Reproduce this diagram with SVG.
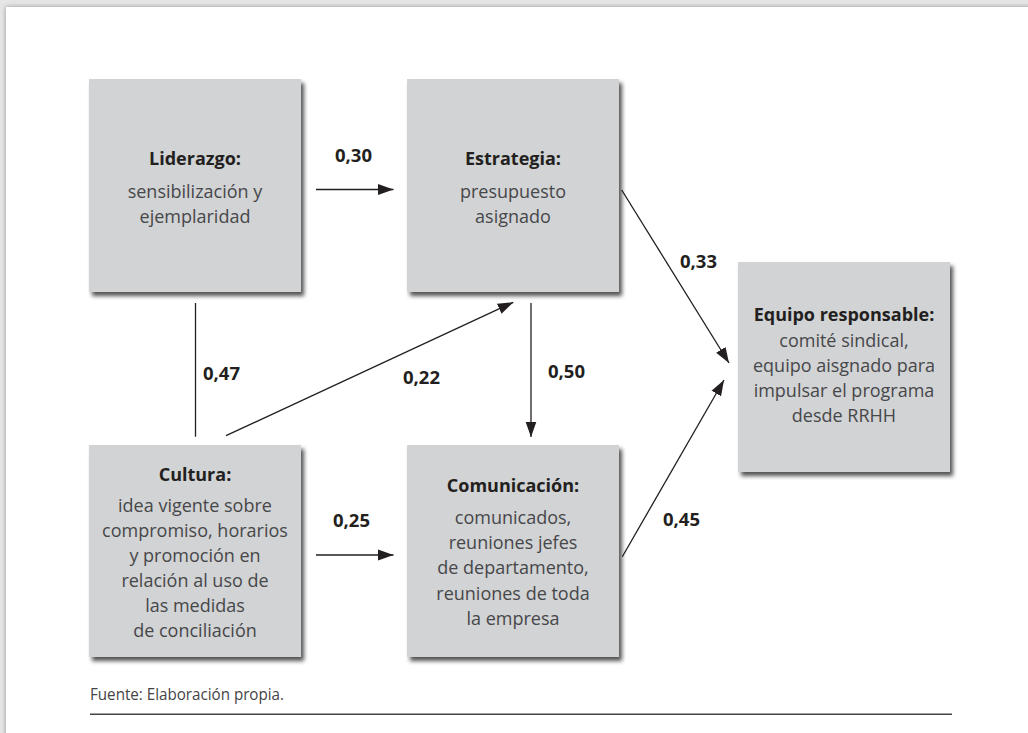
<svg xmlns="http://www.w3.org/2000/svg" width="1028" height="733" viewBox="0 0 1028 733">
  <defs>
    <filter id="pageShadow" x="-5%" y="-5%" width="110%" height="110%">
      <feDropShadow dx="0" dy="0" stdDeviation="2.5" flood-color="#8a8a8a" flood-opacity="0.9"/>
    </filter>
    <filter id="boxShadow" x="-10%" y="-10%" width="125%" height="125%">
      <feDropShadow dx="3" dy="4" stdDeviation="2.2" flood-color="#000" flood-opacity="0.68"/>
    </filter>
    <marker id="arrow" markerUnits="userSpaceOnUse" markerWidth="16" markerHeight="12" viewBox="0 0 16 12" refX="15.5" refY="6" orient="auto">
      <path d="M0,0.5 L15.5,6 L0,11.5 Z" fill="#231f20"/>
    </marker>
  </defs>
  <style>
    .box { fill: #d1d3d4; filter: url(#boxShadow); }
    .title { font-family: "Open Sans", "Noto Sans", sans-serif; font-weight: 700; font-size: 18px; fill: #231f20; text-anchor: middle; }
    .body { font-family: "Open Sans", "Noto Sans", sans-serif; font-weight: 400; font-size: 18px; fill: #47474a; text-anchor: middle; }
    .lbl { font-family: "Open Sans", "Noto Sans", sans-serif; font-weight: 700; font-size: 18.5px; fill: #231f20; }
    .conn { stroke: #231f20; stroke-width: 1.3; fill: none; }
    .foot { font-family: "Open Sans", "Noto Sans", sans-serif; font-size: 16px; fill: #444; }
  </style>

  <rect x="0" y="0" width="1028" height="733" fill="#e6e6e6"/>
  <rect x="6" y="7" width="1040" height="750" fill="#ffffff" filter="url(#pageShadow)"/>

  <g id="connectors">
    <line class="conn" x1="316" y1="189.5" x2="393.5" y2="189.5" marker-end="url(#arrow)"/>
    <line class="conn" x1="621.7" y1="190" x2="729" y2="363" marker-end="url(#arrow)"/>
    <line class="conn" x1="195.5" y1="303" x2="195.5" y2="436.7"/>
    <line class="conn" x1="226" y1="435.7" x2="513.3" y2="302.3" marker-end="url(#arrow)"/>
    <line class="conn" x1="531" y1="303" x2="531" y2="437" marker-end="url(#arrow)"/>
    <line class="conn" x1="316" y1="555" x2="393.5" y2="555" marker-end="url(#arrow)"/>
    <line class="conn" x1="622.3" y1="556.7" x2="724" y2="380" marker-end="url(#arrow)"/>
  </g>

  <g id="labels">
    <text class="lbl" x="335" y="162">0,30</text>
    <text class="lbl" x="680" y="268">0,33</text>
    <text class="lbl" x="203" y="380">0,47</text>
    <text class="lbl" x="403" y="384">0,22</text>
    <text class="lbl" x="548" y="378">0,50</text>
    <text class="lbl" x="333" y="527">0,25</text>
    <text class="lbl" x="663" y="526">0,45</text>
  </g>

  <g id="liderazgo">
    <rect class="box" x="89" y="79" width="212" height="213"/>
    <text class="title" x="195" y="165">Liderazgo:</text>
    <text class="body" x="195" y="198">sensibilización y</text>
    <text class="body" x="195" y="222.7">ejemplaridad</text>
  </g>

  <g id="estrategia">
    <rect class="box" x="407" y="79" width="212" height="213"/>
    <text class="title" x="513" y="165">Estrategia:</text>
    <text class="body" x="513" y="198">presupuesto</text>
    <text class="body" x="513" y="222.7">asignado</text>
  </g>

  <g id="equipo">
    <rect class="box" x="738" y="262" width="212" height="210"/>
    <text class="title" x="844" y="320.5">Equipo responsable:</text>
    <text class="body" x="844" y="347.3">comité sindical,</text>
    <text class="body" x="844" y="372.3">equipo aisgnado para</text>
    <text class="body" x="844" y="397.3">impulsar el programa</text>
    <text class="body" x="844" y="422.3">desde RRHH</text>
  </g>

  <g id="cultura">
    <rect class="box" x="89" y="445" width="212" height="212"/>
    <text class="title" x="195" y="480.5">Cultura:</text>
    <text class="body" x="195" y="511.7">idea vigente sobre</text>
    <text class="body" x="195" y="536.7">compromiso, horarios</text>
    <text class="body" x="195" y="561.7">y promoción en</text>
    <text class="body" x="195" y="586.7">relación al uso de</text>
    <text class="body" x="195" y="612">las medidas</text>
    <text class="body" x="195" y="637">de conciliación</text>
  </g>

  <g id="comunicacion">
    <rect class="box" x="407" y="445" width="212" height="212"/>
    <text class="title" x="513" y="491.7">Comunicación:</text>
    <text class="body" x="513" y="524">comunicados,</text>
    <text class="body" x="513" y="549">reuniones jefes</text>
    <text class="body" x="513" y="574">de departamento,</text>
    <text class="body" x="513" y="599.5">reuniones de toda</text>
    <text class="body" x="513" y="624.5">la empresa</text>
  </g>

  <g id="footer">
    <text class="foot" x="90" y="700" textLength="194" lengthAdjust="spacingAndGlyphs">Fuente: Elaboración propia.</text>
    <line x1="90" y1="714.3" x2="952" y2="714.3" stroke="#444" stroke-width="1.4"/>
  </g>
</svg>
